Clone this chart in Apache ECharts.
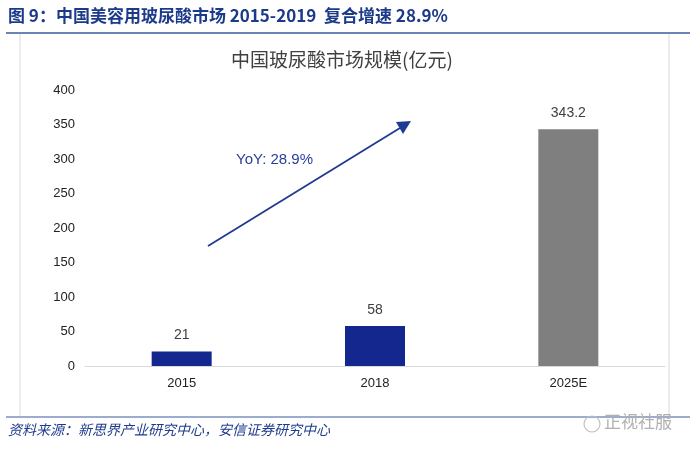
<!DOCTYPE html>
<html><head><meta charset="utf-8">
<script src="https://cdn.jsdelivr.net/npm/echarts@6/dist/echarts.min.js"></script>
<style>html,body{margin:0;padding:0;background:#fff}#c{width:700px;height:451px}</style>
</head><body><div id="c"></div>
<script>
const categories = ['2015', '2018', '2025E'];
const values = [21, 58, 343.2];
const barColors = ['#13278f', '#13278f', '#7f7f7f'];
const yTicks = [0, 50, 100, 150, 200, 250, 300, 350, 400];

const chart = echarts.init(document.getElementById('c'));
const CJK = '"Noto Sans CJK SC", "Liberation Sans", sans-serif';
chart.setOption({
  animation: false,
  backgroundColor: '#fff',
  title: {
    text: '中国玻尿酸市场规模(亿元)',
    left: 226, top: 45,
    textStyle: { fontFamily: CJK, fontSize: 19, fontWeight: 'normal', color: '#404040' }
  },
  grid: { left: 85, right: 35, top: 90, bottom: 85 },
  xAxis: {
    type: 'category', data: categories,
    axisLine: { lineStyle: { color: '#d9d9d9', width: 1 } },
    axisTick: { show: false },
    axisLabel: { color: '#222', fontSize: 13, fontFamily: '"Liberation Sans", Arial, sans-serif', margin: 11 }
  },
  yAxis: {
    type: 'value', min: yTicks[0], max: yTicks[yTicks.length - 1], interval: 50,
    axisLine: { show: false }, axisTick: { show: false },
    splitLine: { show: false },
    axisLabel: { color: '#222', fontSize: 13, fontFamily: '"Liberation Sans", Arial, sans-serif', margin: 10 }
  },
  series: [{
    type: 'bar',
    barWidth: 60,
    data: values.map((v, i) => ({ value: v, itemStyle: { color: barColors[i] } })),
    label: { show: true, position: 'top', distance: 9, color: '#404040', fontSize: 14,
      fontFamily: '"Liberation Sans", Arial, sans-serif' }
  }],
  graphic: [
    { type: 'text', left: 8, top: 7, style: { text: '图 9：中国美容用玻尿酸市场 2015-2019  复合增速 28.9%',
      fill: '#1c3a8a', font: 'bold 17px "Noto Sans CJK SC", sans-serif' } },
    { type: 'line', shape: { x1: 6, y1: 33, x2: 690, y2: 33 }, style: { stroke: '#3b5a9e', lineWidth: 1.5 } },
    { type: 'line', shape: { x1: 20, y1: 34, x2: 20, y2: 416 }, style: { stroke: '#d9d9d9', lineWidth: 1 } },
    { type: 'line', shape: { x1: 669, y1: 34, x2: 669, y2: 416 }, style: { stroke: '#d9d9d9', lineWidth: 1 } },
    { type: 'line', shape: { x1: 6, y1: 417, x2: 690, y2: 417 }, style: { stroke: '#3b5a9e', lineWidth: 1.2 } },
    { type: 'text', left: 8, top: 423, style: { text: '资料来源：新思界产业研究中心，安信证券研究中心',
      fill: '#1f3c8c', font: 'italic 14px "Noto Sans CJK SC", serif' } },
    { type: 'text', left: 604, top: 413, style: { text: '正视社服', fill: '#b0b0b0',
      font: '17px "Noto Sans CJK SC", sans-serif' } },
    { type: 'circle', shape: { cx: 592, cy: 424, r: 8 }, style: { fill: 'none', stroke: '#c0c0c0', lineWidth: 1.2 } },
    { type: 'line', shape: { x1: 208, y1: 246, x2: 400, y2: 128 }, style: { stroke: '#1f3a93', lineWidth: 1.8 } },
    { type: 'polygon', shape: { points: [[411, 121], [396, 122], [403, 134]] }, style: { fill: '#1f3a93' } },
    { type: 'text', left: 236, top: 152, style: { text: 'YoY: 28.9%', fill: '#2a3f9a',
      font: '15px "Liberation Sans", Arial, sans-serif' } }
  ]
});
</script></body></html>
